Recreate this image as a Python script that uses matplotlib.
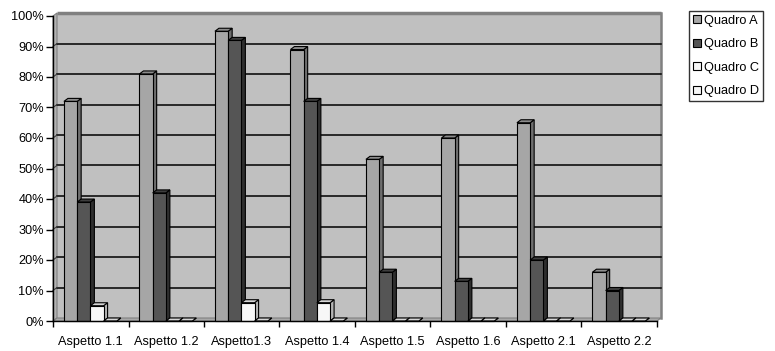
import matplotlib
matplotlib.use("Agg")
import matplotlib.pyplot as plt
from matplotlib.patches import Polygon, Rectangle
import numpy as np

plt.rcParams['font.family'] = ['Liberation Sans', 'DejaVu Sans']

categories = ["Aspetto 1.1", "Aspetto 1.2", "Aspetto1.3", "Aspetto 1.4",
              "Aspetto 1.5", "Aspetto 1.6", "Aspetto 2.1", "Aspetto 2.2"]
series_names = ["Quadro A", "Quadro B", "Quadro C", "Quadro D"]
quadro_a = [72, 81, 95, 89, 53, 60, 65, 16]
quadro_b = [39, 42, 92, 72, 16, 13, 20, 10]
quadro_c = [5, 0, 6, 6, 0, 0, 0, 0]
quadro_d = [0, 0, 0, 0, 0, 0, 0, 0]
yticks = list(range(0, 101, 10))

# front face, side face, top face
colors = [("#A6A6A6", "#6E6E6E", "#8C8C8C"),
          ("#555555", "#2E2E2E", "#3E3E3E"),
          ("#F7F7F7", "#B4B4B4", "#D6D6D6"),
          ("#F7F7F7", "#B4B4B4", "#D6D6D6")]

FS = 9.2
W, H = 775, 351
fig = plt.figure(figsize=(W / 100, H / 100), dpi=100)
x0, x1, y0, y1 = 53, 657, 321, 16
ax = fig.add_axes([x0 / W, 1 - y0 / H, (x1 - x0) / W, (y0 - y1) / H])
ax.set_xlim(0, len(categories))
ax.set_ylim(0, 100)
ax.patch.set_visible(False)

# depth offset (data units)
dx = 4 * len(categories) / (x1 - x0)
dy = 3 * 100 / (y0 - y1)
n = len(categories)

# back wall, side wall, floor
ax.add_patch(Rectangle((dx, dy), n, 100, facecolor="#C0C0C0", edgecolor="none",
                       clip_on=False, zorder=0))
ax.add_patch(Polygon([(0, 0), (dx, dy), (dx, 100 + dy), (0, 100)], closed=True,
                     facecolor="#B2B2B2", edgecolor="#808080", lw=0.8,
                     clip_on=False, zorder=0.5))
ax.add_patch(Polygon([(0, 0), (n, 0), (n + dx, dy), (dx, dy)], closed=True,
                     facecolor="#A8A8A8", edgecolor="#808080", lw=0.8,
                     clip_on=False, zorder=0.5))
ax.plot([dx, n + dx], [100 + dy, 100 + dy], color="#808080", lw=2.5,
        clip_on=False, zorder=1, solid_capstyle="butt")
ax.plot([n + dx, n + dx], [dy, 100 + dy], color="#808080", lw=1.8,
        clip_on=False, zorder=1)
for t in yticks[1:-1]:
    ax.plot([dx, n + dx], [t + dy, t + dy], color="black", lw=1.1,
            clip_on=False, zorder=1)
    ax.plot([0, dx], [t, t + dy], color="#404040", lw=0.8, clip_on=False, zorder=1)

series = [quadro_a, quadro_b, quadro_c, quadro_d]
w = 0.175
start = 0.145
z = 2
for i in range(n):
    for k, vals in enumerate(series):
        v = vals[i]
        left = i + start + k * w
        right = left + w
        front, side, top = colors[k]
        ax.add_patch(Polygon([(right, 0), (right + dx, dy), (right + dx, v + dy), (right, v)],
                             closed=True, facecolor=side, edgecolor="black", lw=0.8,
                             zorder=z, clip_on=False))
        ax.add_patch(Polygon([(left, v), (left + dx, v + dy), (right + dx, v + dy), (right, v)],
                             closed=True, facecolor=top, edgecolor="black", lw=0.8,
                             zorder=z, clip_on=False))
        ax.bar(left, v, width=w, align="edge", color=front, edgecolor="black",
               linewidth=0.8, zorder=z + 0.5, clip_on=False)
        z += 1

for s in ["top", "right"]:
    ax.spines[s].set_visible(False)
ax.spines["left"].set_zorder(100)
ax.spines["bottom"].set_zorder(100)
ax.spines["left"].set_linewidth(1.0)
ax.spines["bottom"].set_linewidth(1.0)

ax.set_yticks(yticks)
ax.set_yticklabels(["%d%%" % t for t in yticks], fontsize=FS)
ax.tick_params(axis="y", length=5, width=1, pad=1.5)

ax.set_xticks(np.arange(0, n + 1))
ax.set_xticklabels([])
ax.set_xticks(np.arange(n) + 0.5, minor=True)
ax.set_xticklabels(categories, minor=True, fontsize=FS)
ax.tick_params(axis="x", which="major", length=4, width=1)
ax.tick_params(axis="x", which="minor", length=0, pad=11)

handles = [Rectangle((0, 0), 1, 1, facecolor=colors[k][0], edgecolor="black", lw=0.8)
           for k in range(len(series_names))]
leg = fig.legend(handles, series_names, loc="upper left",
                 bbox_to_anchor=(689 / W, 1 - 11 / H), frameon=True, fancybox=False,
                 fontsize=FS, handlelength=0.6, handleheight=0.6, handletextpad=0.3,
                 labelspacing=0.9, borderpad=0.3, borderaxespad=0)
leg.get_frame().set_edgecolor("black")
leg.get_frame().set_linewidth(1.0)

fig.savefig("out.png", dpi=100)
